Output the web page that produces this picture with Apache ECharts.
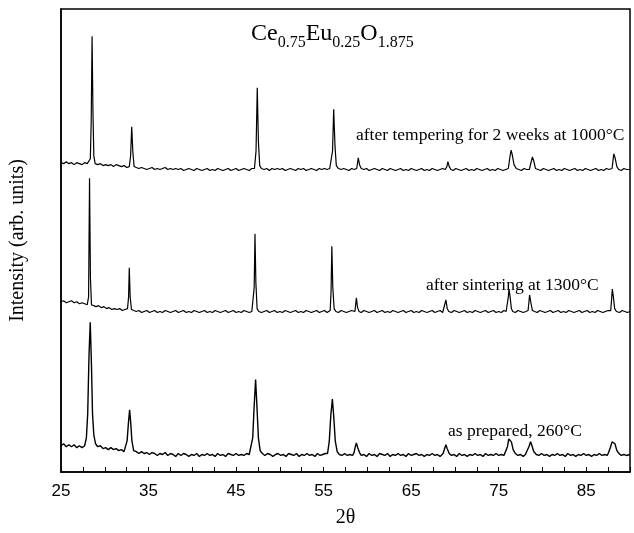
<!DOCTYPE html>
<html><head><meta charset="utf-8">
<script src="https://cdn.jsdelivr.net/npm/echarts@6/dist/echarts.min.js"></script>
<style>html,body{margin:0;padding:0;background:#fff}#c{width:634px;height:533px}</style>
</head><body><div id="c"></div>
<script>
// x range and tick labels (2θ, degrees)
const xTickLabels = [25, 35, 45, 55, 65, 75, 85];
const seriesNames = ['after tempering for 2 weeks at 1000°C', 'after sintering at 1300°C', 'as prepared, 260°C'];
// Intensity (arb. units), traces vertically offset as in the figure: [2θ, intensity]
const topTrace = [[25.0,318],[25.3,317],[25.6,319],[25.9,317],[26.2,318],[26.5,316],[26.8,318],[27.1,317],[27.4,316],[27.7,318],[28.0,317],[28.2,317],[28.35,322],[28.45,360],[28.55,448],[28.65,370],[28.75,325],[28.9,317],[29.2,316],[29.5,317],[29.8,315],[30.1,316],[30.4,315],[30.7,316],[31.0,314],[31.3,316],[31.6,315],[31.9,314],[32.2,315],[32.5,313],[32.8,314],[32.95,325],[33.08,355],[33.2,330],[33.35,314],[33.6,313],[33.9,312],[34.2,313],[34.5,312],[34.8,311],[35.1,312],[35.4,313],[35.7,311],[36.0,312],[36.3,311],[36.6,312],[36.9,313],[37.2,311],[37.5,312],[37.8,311],[38.1,312],[38.4,311],[38.7,312],[39.0,310],[39.3,311],[39.6,312],[39.9,311],[40.2,310],[40.5,312],[40.8,311],[41.1,310],[41.4,311],[41.7,312],[42.0,310],[42.3,311],[42.6,310],[42.9,312],[43.2,311],[43.5,310],[43.8,311],[44.1,312],[44.4,310],[44.7,311],[45.0,312],[45.3,310],[45.6,311],[45.9,312],[46.2,311],[46.5,310],[46.8,312],[47.1,312],[47.28,330],[47.42,395],[47.55,340],[47.7,315],[47.9,312],[48.2,311],[48.5,312],[48.8,310],[49.1,312],[49.4,311],[49.7,312],[50.0,311],[50.3,312],[50.6,310],[50.9,311],[51.2,312],[51.5,311],[51.8,310],[52.1,312],[52.4,311],[52.7,312],[53.0,310],[53.3,311],[53.6,312],[53.9,311],[54.2,310],[54.5,312],[54.8,311],[55.1,312],[55.4,311],[55.7,312],[55.88,313],[56.02,330],[56.15,373],[56.3,335],[56.45,315],[56.7,312],[57.0,311],[57.3,312],[57.6,311],[57.9,310],[58.2,312],[58.5,311],[58.78,312],[58.96,323],[59.1,316],[59.3,312],[59.6,311],[59.9,312],[60.2,310],[60.5,311],[60.8,312],[61.1,311],[61.4,310],[61.7,312],[62.0,311],[62.3,310],[62.6,312],[62.9,311],[63.2,310],[63.5,311],[63.8,312],[64.1,310],[64.4,311],[64.7,310],[65.0,312],[65.3,311],[65.6,310],[65.9,311],[66.2,312],[66.5,310],[66.8,311],[67.1,310],[67.4,312],[67.7,311],[68.0,310],[68.3,311],[68.6,312],[68.9,311],[69.08,314],[69.2,319],[69.35,314],[69.55,311],[69.8,310],[70.1,312],[70.4,311],[70.7,310],[71.0,311],[71.3,312],[71.6,310],[71.9,311],[72.2,310],[72.5,312],[72.8,311],[73.1,310],[73.4,311],[73.7,312],[74.0,310],[74.3,311],[74.6,310],[74.9,312],[75.2,311],[75.5,310],[75.8,311],[76.1,312],[76.3,325],[76.42,331],[76.55,326],[76.75,316],[77.0,312],[77.3,311],[77.6,310],[77.9,312],[78.2,311],[78.5,311],[78.68,312],[78.85,324],[79.0,320],[79.2,312],[79.5,311],[79.8,310],[80.1,312],[80.4,311],[80.7,310],[81.0,311],[81.3,312],[81.6,310],[81.9,311],[82.2,310],[82.5,312],[82.8,311],[83.1,310],[83.4,311],[83.7,312],[84.0,310],[84.3,311],[84.6,310],[84.9,312],[85.2,311],[85.5,310],[85.8,311],[86.1,312],[86.4,310],[86.7,311],[87.0,310],[87.3,312],[87.6,311],[87.95,312],[88.15,327],[88.3,323],[88.5,314],[88.7,311],[89.0,310],[89.3,312],[89.6,311],[90.0,311]];
const middleTrace = [[25.0,175],[25.3,176],[25.6,174],[25.9,175],[26.2,176],[26.5,174],[26.8,175],[27.1,173],[27.4,174],[27.7,173],[28.0,172],[28.15,180],[28.26,302],[28.36,200],[28.48,172],[28.7,171],[29.0,170],[29.3,171],[29.6,169],[29.9,170],[30.2,168],[30.5,169],[30.8,167],[31.1,168],[31.4,167],[31.7,168],[32.0,166],[32.3,167],[32.6,168],[32.72,180],[32.8,210],[32.9,180],[33.05,167],[33.3,166],[33.6,165],[33.9,166],[34.2,164],[34.5,165],[34.8,166],[35.1,164],[35.4,165],[35.7,166],[36.0,164],[36.3,165],[36.6,164],[36.9,166],[37.2,165],[37.5,164],[37.8,165],[38.1,166],[38.4,164],[38.7,165],[39.0,166],[39.3,164],[39.6,165],[39.9,164],[40.2,166],[40.5,165],[40.8,164],[41.1,165],[41.4,166],[41.7,164],[42.0,165],[42.3,164],[42.6,166],[42.9,165],[43.2,164],[43.5,165],[43.8,166],[44.1,164],[44.4,165],[44.7,166],[45.0,164],[45.3,165],[45.6,164],[45.9,166],[46.2,165],[46.5,164],[46.8,165],[46.97,166],[47.07,190],[47.16,245],[47.26,195],[47.4,168],[47.6,165],[47.9,164],[48.2,165],[48.5,166],[48.8,164],[49.1,165],[49.4,166],[49.7,164],[50.0,165],[50.3,164],[50.6,166],[50.9,165],[51.2,164],[51.5,165],[51.8,166],[52.1,164],[52.4,165],[52.7,164],[53.0,166],[53.3,165],[53.6,164],[53.9,165],[54.2,166],[54.5,164],[54.8,165],[55.1,166],[55.4,164],[55.75,166],[55.85,185],[55.94,232],[56.05,190],[56.2,168],[56.4,165],[56.7,164],[57.0,166],[57.3,165],[57.6,164],[57.9,165],[58.2,166],[58.58,165],[58.74,179],[58.88,169],[59.05,165],[59.3,164],[59.6,166],[59.9,165],[60.2,164],[60.5,165],[60.8,166],[61.1,164],[61.4,165],[61.7,166],[62.0,164],[62.3,165],[62.6,164],[62.9,166],[63.2,165],[63.5,164],[63.8,165],[64.1,166],[64.4,164],[64.7,165],[65.0,166],[65.3,164],[65.6,165],[65.9,164],[66.2,166],[66.5,165],[66.8,164],[67.1,165],[67.4,166],[67.7,164],[68.0,165],[68.3,166],[68.6,164],[68.82,165],[68.97,177],[69.12,168],[69.3,165],[69.6,164],[69.9,166],[70.2,165],[70.5,164],[70.8,165],[71.1,166],[71.4,164],[71.7,165],[72.0,164],[72.3,166],[72.6,165],[72.9,164],[73.2,165],[73.5,166],[73.8,164],[74.1,165],[74.4,166],[74.7,164],[75.0,165],[75.3,164],[75.6,166],[75.85,165],[76.0,167],[76.1,180],[76.18,188],[76.3,180],[76.45,168],[76.6,165],[76.9,164],[77.2,166],[77.5,165],[77.8,164],[78.1,165],[78.36,166],[78.53,182],[78.68,174],[78.85,166],[79.1,165],[79.4,164],[79.7,166],[80.0,165],[80.3,164],[80.6,165],[80.9,166],[81.2,164],[81.5,165],[81.8,166],[82.1,164],[82.4,165],[82.7,164],[83.0,166],[83.3,165],[83.6,164],[83.9,165],[84.2,166],[84.5,164],[84.8,165],[85.1,166],[85.4,164],[85.7,165],[86.0,164],[86.3,166],[86.6,165],[86.9,164],[87.2,165],[87.5,166],[87.8,166],[87.9,178],[87.98,188],[88.1,180],[88.25,168],[88.45,165],[88.8,164],[89.1,166],[89.4,165],[89.7,164],[90.0,165]];
const bottomTrace = [[25.0,27],[25.3,29],[25.6,26],[25.9,28],[26.2,26],[26.5,28],[26.8,25],[27.1,27],[27.4,25],[27.7,27],[27.9,35],[28.05,60],[28.2,120],[28.34,154],[28.48,110],[28.6,60],[28.75,38],[28.95,29],[29.2,26],[29.5,27],[29.8,24],[30.1,25],[30.4,23],[30.7,25],[31.0,23],[31.3,24],[31.6,22],[31.9,23],[32.2,21],[32.4,23],[32.55,32],[32.7,50],[32.84,64],[32.97,50],[33.1,32],[33.3,22],[33.6,21],[33.9,19],[34.2,21],[34.5,19],[34.8,20],[35.1,18],[35.4,20],[35.7,19],[36.0,17],[36.3,19],[36.6,18],[36.9,20],[37.2,17],[37.5,19],[37.8,18],[38.1,16],[38.4,19],[38.7,17],[39.0,19],[39.3,18],[39.6,16],[39.9,18],[40.2,17],[40.5,19],[40.8,16],[41.1,18],[41.4,17],[41.7,19],[42.0,17],[42.3,18],[42.6,16],[42.9,19],[43.2,17],[43.5,18],[43.8,16],[44.1,19],[44.4,18],[44.7,17],[45.0,19],[45.3,17],[45.6,18],[45.9,17],[46.2,19],[46.5,18],[46.7,20],[46.9,35],[47.05,65],[47.23,95],[47.38,68],[47.55,35],[47.75,22],[48.0,19],[48.3,17],[48.6,19],[48.9,18],[49.2,16],[49.5,18],[49.8,19],[50.1,17],[50.4,18],[50.7,16],[51.0,19],[51.3,18],[51.6,17],[51.9,19],[52.2,16],[52.5,18],[52.8,17],[53.1,19],[53.4,17],[53.7,18],[54.0,16],[54.3,19],[54.6,17],[54.9,18],[55.2,19],[55.45,19],[55.65,32],[55.82,58],[56.0,75],[56.15,58],[56.33,32],[56.55,21],[56.8,18],[57.1,17],[57.4,19],[57.7,17],[58.0,18],[58.3,17],[58.48,20],[58.62,26],[58.74,30],[58.9,25],[59.1,20],[59.3,17],[59.6,18],[59.9,16],[60.2,19],[60.5,17],[60.8,18],[61.1,16],[61.4,19],[61.7,18],[62.0,17],[62.3,19],[62.6,16],[62.9,18],[63.2,17],[63.5,19],[63.8,17],[64.1,18],[64.4,16],[64.7,19],[65.0,17],[65.3,18],[65.6,19],[65.9,17],[66.2,18],[66.5,16],[66.8,18],[67.1,17],[67.4,19],[67.7,17],[68.0,18],[68.3,16],[68.65,19],[68.85,25],[68.97,28],[69.12,24],[69.35,19],[69.6,17],[69.9,18],[70.2,16],[70.5,19],[70.8,17],[71.1,18],[71.4,16],[71.7,18],[72.0,17],[72.3,19],[72.6,17],[72.9,18],[73.2,16],[73.5,19],[73.8,17],[74.1,18],[74.4,17],[74.7,19],[75.0,17],[75.3,18],[75.6,17],[75.8,19],[76.0,26],[76.15,34],[76.28,36],[76.45,31],[76.65,23],[76.9,19],[77.2,17],[77.5,18],[77.8,16],[78.05,18],[78.25,20],[78.45,26],[78.64,31],[78.8,27],[79.0,21],[79.3,18],[79.6,17],[79.9,19],[80.2,17],[80.5,18],[80.8,16],[81.1,18],[81.4,17],[81.7,19],[82.0,17],[82.3,18],[82.6,16],[82.9,19],[83.2,17],[83.5,18],[83.8,16],[84.1,18],[84.4,17],[84.7,19],[85.0,17],[85.3,18],[85.6,16],[85.9,18],[86.2,17],[86.5,19],[86.8,17],[87.1,18],[87.4,17],[87.55,20],[87.75,25],[87.95,31],[88.1,33],[88.28,29],[88.5,22],[88.75,19],[89.0,17],[89.3,18],[89.6,17],[90.0,18]];

const serif = '"Liberation Serif","Times New Roman",serif';
const sans = '"Liberation Sans",Arial,sans-serif';
const chart = echarts.init(document.getElementById('c'), null, {renderer: 'canvas'});
const lineSeries = (name, data, w) => ({
  name, type: 'line', data, showSymbol: false, symbol: 'none', smooth: false,
  lineStyle: {color: '#000', width: w}, animation: false, silent: true
});
chart.setOption({
  backgroundColor: '#fff',
  animation: false,
  grid: {left: 52, right: 4, top: 9, bottom: 48, show: true, borderColor: '#000', borderWidth: 1.5, backgroundColor: 'transparent'},
  xAxis: {
    type: 'value', min: 25, max: 90, interval: 2.5,
    name: '2θ', nameLocation: 'middle', nameGap: 36,
    nameTextStyle: {fontFamily: serif, fontSize: 20, color: '#000'},
    axisLine: {lineStyle: {color: '#000', width: 1.5}},
    axisTick: {inside: true, length: 5, lineStyle: {color: '#000', width: 1}},
    splitLine: {show: false},
    axisLabel: {
      margin: 11, fontFamily: sans, fontSize: 17, color: '#000',
      formatter: v => (xTickLabels.indexOf(v) >= 0 ? String(v) : '')
    }
  },
  yAxis: {
    type: 'value', min: 0, max: 476,
    name: 'Intensity (arb. units)', nameLocation: 'middle', nameGap: 33,
    nameTextStyle: {fontFamily: serif, fontSize: 20, color: '#000'},
    axisLine: {show: true, lineStyle: {color: '#000', width: 1.5}},
    axisTick: {show: false}, axisLabel: {show: false}, splitLine: {show: false}
  },
  series: [
    lineSeries(seriesNames[0], topTrace, 1.2),
    lineSeries(seriesNames[1], middleTrace, 1.2),
    lineSeries(seriesNames[2], bottomTrace, 1.4)
  ],
  graphic: [
    {type: 'text', left: 251, top: 22, style: {
      text: '{n|Ce}{s|0.75}{n|Eu}{s|0.25}{n|O}{s|1.875}',
      rich: {
        n: {fontFamily: serif, fontSize: 24, lineHeight: 24, verticalAlign: 'top', fill: '#000'},
        s: {fontFamily: serif, fontSize: 16, lineHeight: 16, padding: [13, 0, 0, 0], verticalAlign: 'top', fill: '#000'}
      }
    }},
    {type: 'text', left: 356, top: 126, style: {text: seriesNames[0], font: '17.5px ' + serif, fill: '#000'}},
    {type: 'text', left: 426, top: 276, style: {text: seriesNames[1], font: '17.5px ' + serif, fill: '#000'}},
    {type: 'text', left: 448, top: 422, style: {text: seriesNames[2], font: '17.5px ' + serif, fill: '#000'}}
  ]
});
</script>
</body></html>
